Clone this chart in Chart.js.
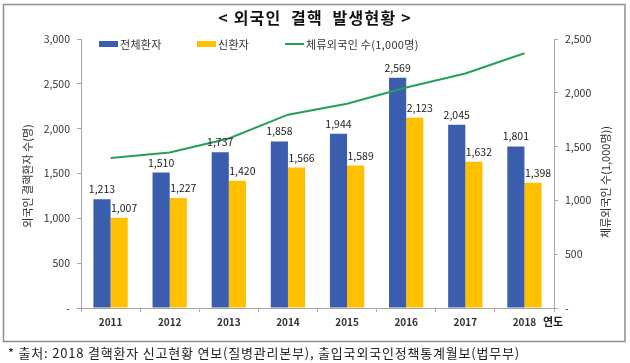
<!DOCTYPE html>
<html>
<head>
<meta charset="utf-8">
<script src="https://cdn.jsdelivr.net/npm/chart.js@4.4.1/dist/chart.umd.min.js"></script>
<style>
  html, body { margin: 0; padding: 0; background: #ffffff; }
  #wrap { position: relative; width: 630px; height: 363px; }
</style>
</head>
<body>
<div id="wrap"><canvas id="c" width="630" height="363"></canvas></div>
<script>
const years = ['2011', '2012', '2013', '2014', '2015', '2016', '2017', '2018'];
const totalPatients = [1213, 1510, 1737, 1858, 1944, 2569, 2045, 1801];
const newPatients = [1007, 1227, 1420, 1566, 1589, 2123, 1632, 1398];
const foreignResidents = [1395, 1445, 1576, 1797, 1899, 2049, 2180, 2367];

const seriesNames = ['전체환자', '신환자', '체류외국인 수(1,000명)'];
const titleText = '< 외국인  결핵  발생현황 >';
const leftAxisTitle = '외국인 결핵환자 수(명)';
const rightAxisTitle = '체류외국인 수(1,000명))';
const xAxisUnit = '연도';
const footnote = '* 출처: 2018 결핵환자 신고현황 연보(질병관리본부), 출입국외국인정책통계월보(법무부)';

const BLUE = '#3A5DAE';
const YELLOW = '#FFC000';
const GREEN = '#22A157';
const AXIS = '#a6a6a6';
const FONT = '"Noto Sans CJK KR", "Noto Sans", sans-serif';

function fmt(v) { return v === 0 ? '-' : v.toLocaleString('en-US'); }

const decor = {
  id: 'decor',
  afterDatasetsDraw(chart) {
    const ctx = chart.ctx;
    ctx.save();
    ctx.fillStyle = '#222';
    ctx.font = '10.5px ' + FONT;
    ctx.textAlign = 'center';
    ctx.textBaseline = 'middle';
    [0, 1].forEach(di => {
      const meta = chart.getDatasetMeta(di);
      const vals = chart.data.datasets[di].data;
      meta.data.forEach((bar, i) => {
        ctx.fillText(fmt(vals[i]), bar.x + (di === 1 ? 5 : 0), bar.y - 10);
      });
    });
    ctx.restore();
  },
  afterDraw(chart) {
    const ctx = chart.ctx;
    ctx.save();
    // frame
    ctx.strokeStyle = '#8f8f8f';
    ctx.lineWidth = 1.5;
    ctx.strokeRect(3.5, 4.5, 621.5, 337);
    // title
    ctx.fillStyle = '#111';
    ctx.font = 'bold 16px ' + FONT;
    ctx.textAlign = 'center';
    ctx.textBaseline = 'middle';
    ctx.letterSpacing = '1.2px';
    ctx.fillText(titleText, 315, 18);
    ctx.letterSpacing = '0px';
    // legend
    ctx.font = '11px ' + FONT;
    ctx.textAlign = 'left';
    ctx.letterSpacing = '0.3px';
    ctx.fillStyle = BLUE; ctx.fillRect(99, 41, 19, 6);
    ctx.fillStyle = '#333'; ctx.fillText(seriesNames[0], 120, 44.5);
    ctx.fillStyle = YELLOW; ctx.fillRect(197, 41, 19, 6);
    ctx.fillStyle = '#333'; ctx.fillText(seriesNames[1], 218, 44.5);
    ctx.strokeStyle = GREEN; ctx.lineWidth = 2;
    ctx.beginPath(); ctx.moveTo(285, 44); ctx.lineTo(304, 44); ctx.stroke();
    ctx.fillStyle = '#333'; ctx.fillText(seriesNames[2], 306, 44.5);
    ctx.letterSpacing = '0px';
    // axis titles
    ctx.font = '11px ' + FONT;
    ctx.textAlign = 'center';
    ctx.save();
    ctx.translate(28, 176); ctx.rotate(-Math.PI / 2);
    ctx.fillText(leftAxisTitle, 0, 0);
    ctx.restore();
    ctx.save();
    ctx.translate(606, 182); ctx.rotate(-Math.PI / 2);
    ctx.fillText(rightAxisTitle, 0, 0);
    ctx.restore();
    // x unit
    ctx.font = 'bold 11px ' + FONT;
    ctx.fillStyle = '#222';
    ctx.fillText(xAxisUnit, 553, 322);
    // footnote
    ctx.font = '13px ' + FONT;
    ctx.textAlign = 'left';
    ctx.fillStyle = '#222';
    ctx.letterSpacing = '0.8px';
    ctx.fillText(footnote, 8, 353);
    ctx.letterSpacing = '0px';
    ctx.restore();
  }
};

new Chart(document.getElementById('c'), {
  type: 'bar',
  data: {
    labels: years,
    datasets: [
      { label: seriesNames[0], data: totalPatients, backgroundColor: BLUE, yAxisID: 'y', order: 1,
        categoryPercentage: 0.58, barPercentage: 1.0 },
      { label: seriesNames[1], data: newPatients, backgroundColor: YELLOW, yAxisID: 'y', order: 1,
        categoryPercentage: 0.58, barPercentage: 1.0 },
      { label: seriesNames[2], data: foreignResidents, type: 'line', yAxisID: 'y1', order: 0,
        borderColor: GREEN, borderWidth: 2, pointRadius: 0, tension: 0, fill: false }
    ]
  },
  options: {
    responsive: false,
    animation: false,
    devicePixelRatio: 1,
    layout: { padding: { top: 39, left: 0, right: 0, bottom: 0 } },
    plugins: { legend: { display: false }, title: { display: false }, tooltip: { enabled: false } },
    scales: {
      x: {
        afterFit(s) { s.height = 55; },
        grid: { display: true, drawOnChartArea: false, drawTicks: true, tickLength: 4, color: AXIS, offset: true },
        border: { display: true, color: AXIS },
        ticks: { color: '#333', font: { family: FONT, size: 10, weight: 'bold' }, padding: 4 }
      },
      y: {
        position: 'left',
        min: 0, max: 3000,
        afterFit(s) { s.width = 81; },
        grid: { display: true, drawOnChartArea: false, drawTicks: true, tickLength: 4, color: AXIS },
        border: { display: true, color: AXIS },
        ticks: { stepSize: 500, color: '#333', font: { family: FONT, size: 10.5 }, padding: 7, callback: v => fmt(v) }
      },
      y1: {
        position: 'right',
        min: 0, max: 2500,
        afterFit(s) { s.width = 76; },
        grid: { display: true, drawOnChartArea: false, drawTicks: true, tickLength: 4, color: AXIS },
        border: { display: true, color: AXIS },
        ticks: { stepSize: 500, color: '#333', font: { family: FONT, size: 10.5 }, padding: 7, callback: v => fmt(v) }
      }
    }
  },
  plugins: [decor]
});
</script>
</body>
</html>
